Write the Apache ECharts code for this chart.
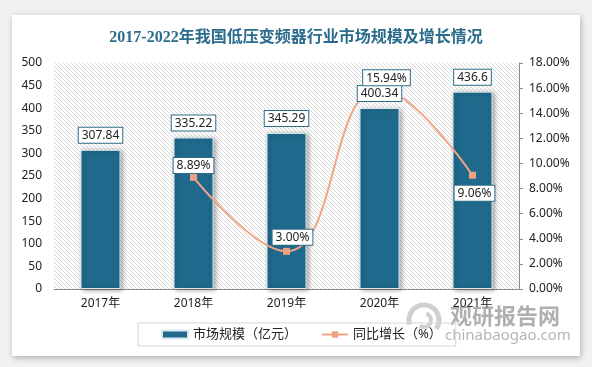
<!DOCTYPE html>
<html>
<head>
<meta charset="utf-8">
<script src="https://cdn.jsdelivr.net/npm/echarts@6/dist/echarts.min.js"></script>
<style>
  html, body { margin: 0; padding: 0; width: 592px; height: 367px; background: #f1f1f1; overflow: hidden; }
  #card { position: absolute; left: 12px; top: 15px; width: 568px; height: 341px; background: #ffffff;
          box-shadow: 1px 2px 6px rgba(0,0,0,0.28); }
  #chart { position: absolute; left: 0; top: 0; width: 592px; height: 367px; }
</style>
</head>
<body>
<div id="card"></div>
<div id="chart"></div>
<script>
const titleText = '2017-2022年我国低压变频器行业市场规模及增长情况';
const categories = ['2017年', '2018年', '2019年', '2020年', '2021年'];
const marketSize = [307.84, 335.22, 345.29, 400.34, 436.6];
const growthRate = [null, 8.89, 3.00, 15.94, 9.06];
const seriesNames = ['市场规模（亿元）', '同比增长（%）'];
const watermarkCn = '观研报告网';
const watermarkEn = 'chinabaogao.com';

// diagonal hatch pattern for the plot area
const tile = document.createElement('canvas');
tile.width = 4; tile.height = 4;
const tc = tile.getContext('2d');
tc.fillStyle = '#ffffff';
tc.fillRect(0, 0, 4, 4);
tc.strokeStyle = '#d8d8d8';
tc.lineWidth = 1;
tc.beginPath();
tc.moveTo(-1, -1); tc.lineTo(5, 5);
tc.moveTo(-1, 3); tc.lineTo(1, 5);
tc.moveTo(3, -1); tc.lineTo(5, 1);
tc.stroke();

const font = '"Noto Sans", "Noto Sans CJK SC", sans-serif';
const chart = echarts.init(document.getElementById('chart'), null, { renderer: 'canvas' });

const lineLabelCfg = [
  null,
  { position: 'top', distance: 1, offset: [0, 0] },
  { position: 'top', distance: 3, offset: [6, 0] },
  { position: 'top', distance: 0, offset: [7, 0] },
  { position: 'bottom', distance: 7, offset: [2, 0] }
];

const labelBox = {
  backgroundColor: '#ffffff',
  borderColor: '#2e6c88',
  borderWidth: 1,
  padding: [2, 3, 1, 3],
  color: '#222222',
  fontSize: 12,
  fontFamily: font,
  opacity: 1
};

chart.setOption({
  backgroundColor: 'transparent',
  textStyle: { fontFamily: font },
  title: {
    text: titleText,
    left: 'center',
    top: 30,
    padding: 0,
    textStyle: {
      fontSize: 16,
      fontWeight: 'bold',
      color: '#2b6c8c',
      fontFamily: '"Liberation Serif", "Noto Sans CJK SC", serif'
    }
  },
  grid: {
    left: 54, right: 73, top: 63, bottom: 78,
    show: true,
    borderWidth: 0,
    backgroundColor: { image: tile, repeat: 'repeat' }
  },
  legend: {
    left: 138,
    top: 323,
    padding: [5, 14, 5, 23],
    itemGap: 24,
    itemWidth: 26,
    itemHeight: 8,
    borderColor: '#d6d6d6',
    borderWidth: 1,
    textStyle: { fontSize: 13, color: '#222222', fontFamily: font },
    data: [
      { name: seriesNames[0], icon: 'rect' },
      { name: seriesNames[1] }
    ]
  },
  xAxis: {
    type: 'category',
    data: categories,
    axisLine: { lineStyle: { color: '#8c8c8c', width: 1 } },
    axisTick: { show: false },
    axisLabel: { fontSize: 12, color: '#222222', margin: 9 },
    splitLine: { show: false }
  },
  yAxis: [
    {
      type: 'value',
      min: 0, max: 500, interval: 50,
      axisLine: { show: false },
      axisTick: { show: false },
      splitLine: { show: false },
      axisLabel: { fontSize: 12, color: '#222222', margin: 12 }
    },
    {
      type: 'value',
      min: 0, max: 18, interval: 2,
      position: 'right',
      axisLine: { show: true, lineStyle: { color: '#8c8c8c' } },
      axisTick: { show: true, inside: false, length: 4, lineStyle: { color: '#8c8c8c' } },
      splitLine: { show: false },
      axisLabel: { fontSize: 12, color: '#222222', margin: 10,
        formatter: v => v.toFixed(2) + '%' }
    }
  ],
  series: [
    {
      name: seriesNames[0],
      type: 'bar',
      data: marketSize,
      barWidth: 40,
      itemStyle: {
        color: '#1f6a8c',
        borderColor: '#dbe9ef',
        borderWidth: 1,
        shadowBlur: 5,
        shadowColor: 'rgba(0,0,0,0.35)',
        shadowOffsetX: 2,
        shadowOffsetY: 1
      },
      label: { show: false },
      z: 2
    },
    {
      name: seriesNames[1],
      type: 'line',
      yAxisIndex: 1,
      smooth: 0.45,
      connectNulls: false,
      symbol: 'rect',
      symbolSize: 7,
      showAllSymbol: true,
      lineStyle: { color: '#f2a585', width: 2 },
      itemStyle: { color: '#eda083' },
      data: growthRate,
      label: { show: false },
      z: 5
    },
    {
      // label layer for the bar values, drawn above the line
      name: seriesNames[0] + '-label',
      type: 'bar',
      data: marketSize,
      barWidth: 40,
      barGap: '-100%',
      silent: true,
      itemStyle: { color: 'rgba(0,0,0,0)' },
      label: Object.assign({ show: true, position: 'top', distance: 7 }, labelBox),
      z: 8
    },
    {
      // label layer for the growth values, drawn on top
      name: seriesNames[1] + '-label',
      type: 'line',
      yAxisIndex: 1,
      silent: true,
      symbol: 'rect',
      symbolSize: 7,
      showAllSymbol: true,
      lineStyle: { color: 'rgba(0,0,0,0)', width: 0 },
      itemStyle: { color: 'rgba(0,0,0,0)' },
      data: growthRate.map((v, i) => v === null ? null : {
        value: v,
        label: Object.assign({ show: true, formatter: p => p.value.toFixed(2) + '%' },
                             labelBox, lineLabelCfg[i])
      }),
      z: 10
    }
  ],
  graphic: [
    {
      type: 'arc', z: 1,
      shape: { cx: 424, cy: 320, r: 15, startAngle: Math.PI * 0.9, endAngle: Math.PI * 2.2 },
      style: { stroke: 'rgba(150,150,150,0.45)', lineWidth: 5, fill: null }
    },
    {
      type: 'arc', z: 1,
      shape: { cx: 424, cy: 320, r: 7, startAngle: Math.PI * 1.6, endAngle: Math.PI * 2.7 },
      style: { stroke: 'rgba(150,150,150,0.45)', lineWidth: 4, fill: null }
    },
    {
      type: 'text', z: 1,
      left: 450, top: 305,
      style: { text: watermarkCn, font: 'bold 22px "Noto Sans CJK SC", sans-serif',
               fill: 'rgba(110,110,110,0.55)' }
    },
    {
      type: 'text', z: 1,
      left: 445, top: 328,
      style: { text: watermarkEn, font: '15px "Noto Sans", sans-serif',
               fill: 'rgba(120,120,120,0.55)' }
    }
  ]
});
</script>
</body>
</html>
